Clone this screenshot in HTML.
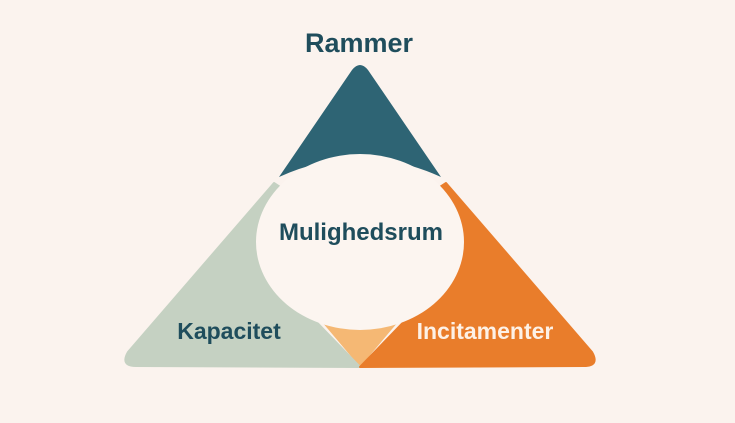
<!DOCTYPE html>
<html><head><meta charset="utf-8"><style>
html,body{margin:0;padding:0;background:#fbf3ee;}
svg{display:block}
text{font-family:"Liberation Sans","DejaVu Sans",sans-serif;font-weight:bold;}
</style></head><body>
<svg width="735" height="423" viewBox="0 0 735 423">
<rect width="735" height="423" fill="#fbf3ee"/>
<polygon points="295,290 425,290 360,367" fill="#f5b874"/>
<path d="M274,183 L128,352 Q120,366 136,366 L360,367 L300,305 L300,200 Z" fill="#c5d1c2" stroke="#c5d1c2" stroke-linejoin="round" stroke-width="2"/>
<path d="M446,183 L592,352 Q600,366 584,366 L360,367 L420,305 L420,200 Z" fill="#e97d2b" stroke="#e97d2b" stroke-linejoin="round" stroke-width="2"/>
<path d="M352,70 Q360,60 368,70 L441,177 Q360,140 279,177 Z" fill="#2e6474"/>
<ellipse cx="360" cy="242" rx="104" ry="88" fill="#fcf5f0"/>
<text x="359" y="52" text-anchor="middle" font-size="27" fill="#1f4d5c">Rammer</text>
<text x="361" y="240" text-anchor="middle" font-size="24" fill="#1f4d5c">Mulighedsrum</text>
<text x="229" y="339" text-anchor="middle" font-size="23" fill="#1f4d5c">Kapacitet</text>
<text x="485" y="339" text-anchor="middle" font-size="23" fill="#fdf1e6">Incitamenter</text>
</svg>
</body></html>
